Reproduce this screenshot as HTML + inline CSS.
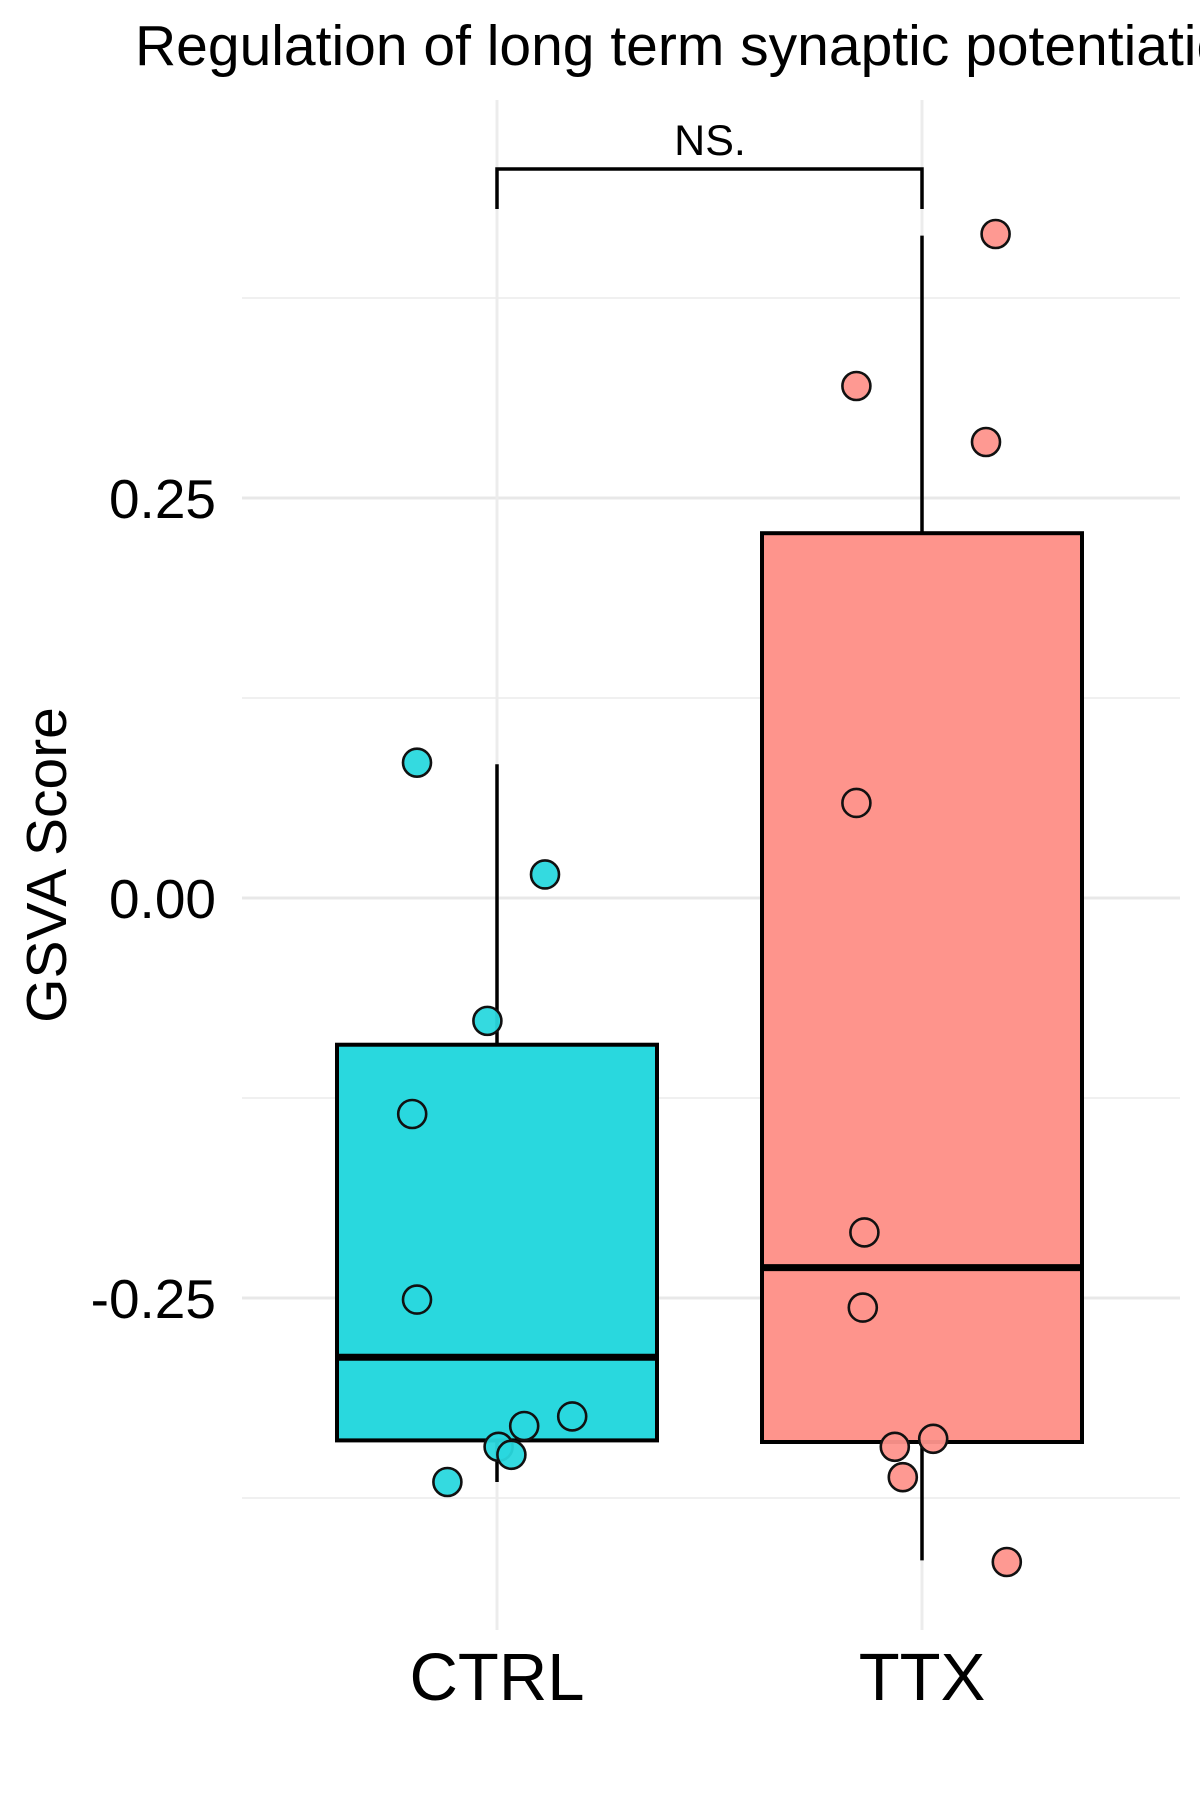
<!DOCTYPE html>
<html><head><meta charset="utf-8"><style>html,body{margin:0;padding:0;background:#fff;width:1200px;height:1800px;overflow:hidden}</style></head>
<body>
<svg id="chart" width="1200" height="1800" xmlns="http://www.w3.org/2000/svg" font-family="Liberation Sans, Arial, sans-serif"></svg>
<script>
const categories = ["CTRL", "TTX"];
const whiskerHigh = [0.0836, 0.414];
const q3 = [-0.0917, 0.228];
const medians = [-0.287, -0.231];
const q1 = [-0.339, -0.340];
const whiskerLow = [-0.365, -0.414];
const ctrlValues = [0.0846, 0.0147, -0.0768, -0.135, -0.251, -0.324, -0.330, -0.343, -0.348, -0.365];
const ttxValues = [0.415, 0.320, 0.285, 0.0594, -0.209, -0.256, -0.338, -0.343, -0.362, -0.415];
const ctrlJitter = [-0.50, 0.30, -0.06, -0.53, -0.50, 0.47, 0.17, 0.01, 0.09, -0.31];
const ttxJitter = [0.46, -0.41, 0.40, -0.41, -0.36, -0.37, 0.07, -0.17, -0.12, 0.53];
const majorTicks = [0.25, 0, -0.25];
const tickLabels = ["0.25", "0.00", "-0.25"];
const minorTicks = [0.375, 0.125, -0.125, -0.375];

const svg = document.getElementById('chart');
const NS = 'http://www.w3.org/2000/svg';
const y = v => 898 - v * 1600;
const xc = i => 497 + i * 425;
const halfW = 160;
const fills = ['#29d8de', '#fe948c'];
function el(tag, attrs, parent) {
  const e = document.createElementNS(NS, tag);
  for (const k in attrs) e.setAttribute(k, attrs[k]);
  (parent || svg).appendChild(e);
  return e;
}
minorTicks.forEach(v => {
  const l = el('line', {x1: 242, x2: 1180, y1: y(v), y2: y(v), stroke: '#ececec', 'stroke-width': 1.5});
  
  
});
majorTicks.forEach((v, i) => {
  const l = el('line', {x1: 242, x2: 1180, y1: y(v), y2: y(v), stroke: '#e8e8e8', 'stroke-width': 3});
  
  
  const t = el('text', {x: 216, y: y(v) + 20, 'text-anchor': 'end', 'font-size': 55, fill: '#000'});
  t.textContent = tickLabels[i];
  
  
});
categories.forEach((c, i) => {
  const l = el('line', {x1: xc(i), x2: xc(i), y1: 100, y2: 1630, stroke: '#ececec', 'stroke-width': 3});
  
  
});
categories.forEach((c, i) => {
  const g = el('g', {});
  
  
  el('line', {x1: xc(i), x2: xc(i), y1: y(whiskerHigh[i]), y2: y(q3[i]), stroke: '#000', 'stroke-width': 3.5}, g);
  el('line', {x1: xc(i), x2: xc(i), y1: y(q1[i]), y2: y(whiskerLow[i]), stroke: '#000', 'stroke-width': 3.5}, g);
  el('rect', {x: xc(i) - halfW, y: y(q3[i]), width: 2 * halfW, height: y(q1[i]) - y(q3[i]), fill: fills[i], stroke: '#000', 'stroke-width': 4}, g);
  el('line', {x1: xc(i) - halfW, x2: xc(i) + halfW, y1: y(medians[i]), y2: y(medians[i]), stroke: '#000', 'stroke-width': 7}, g);
});
[[ctrlValues, ctrlJitter], [ttxValues, ttxJitter]].forEach(([vals, jit], i) => {
  vals.forEach((v, k) => {
    const p = el('circle', {cx: xc(i) + jit[k] * halfW, cy: y(v), r: 14, fill: fills[i], stroke: '#111', 'stroke-width': 2.6, 'fill-opacity': 0.95});
    
    
  });
});
categories.forEach((c, i) => {
  const t = el('text', {x: xc(i), y: 1700, 'text-anchor': 'middle', 'font-size': 67, fill: '#000'});
  t.textContent = c;
  
  
});
const br = el('path', {d: `M${xc(0)},209 V169 H${xc(1)} V209`, fill: 'none', stroke: '#000', 'stroke-width': 3.5});


</script>
<svg style="position:absolute;left:0;top:0" width="1200" height="1800" xmlns="http://www.w3.org/2000/svg" font-family="Liberation Sans, Arial, sans-serif">
<text x="710" y="155" text-anchor="middle" font-size="43">NS.</text>
<text x="135" y="65" font-size="57">Regulation of long term synaptic potentiation</text>
<text transform="translate(66,865) rotate(-90)" text-anchor="middle" font-size="57">GSVA Score</text>
</svg>
</body></html>
